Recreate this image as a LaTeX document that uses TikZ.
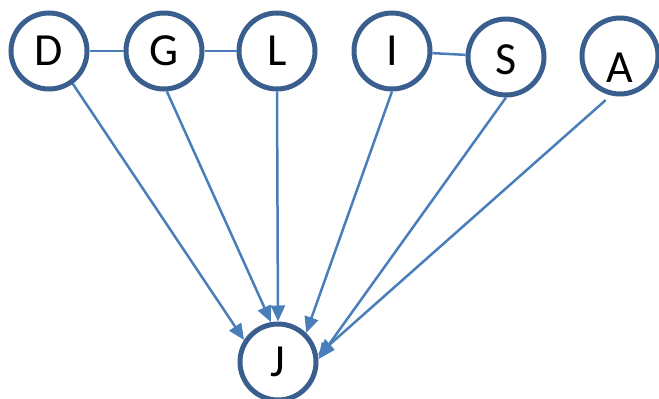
\documentclass[tikz,border=0pt]{standalone}
\usepackage{fontspec}
\setmainfont{Carlito}
\usetikzlibrary{arrows.meta}
\definecolor{ringblue}{HTML}{3A5F8E}
\definecolor{edgeblue}{HTML}{4A7EBB}
\begin{document}
\begin{tikzpicture}[
  x=1pt, y=-1pt,
  var/.style={draw=ringblue, line width=5pt, circle, minimum size=76pt,
    inner sep=0pt, font=\fontsize{46}{46}\selectfont},
  link/.style={draw=edgeblue, line width=2.5pt},
  dep/.style={link, -{Triangle[length=16pt,width=14pt]}}
]
\useasboundingbox (0,0) rectangle (659,399);
% variables
\node[var] (D) at (49,51)  {D};
\node[var] (G) at (164,51) {G};
\node[var] (L) at (277,51) {L};
\node[var] (I) at (392,51) {I};
\node[var, text height=35pt] (S) at (506,57) {S};
\node[var, text height=52pt] (A) at (620,56) {A};
\node[var] (J) at (278,362) {J};
% undirected links
\draw[link] (D) -- (G);
\draw[link] (G) -- (L);
\draw[link] (I) -- (S);
% everything points into J
\draw[dep] (D.-54) -- (J.147);
\draw[dep] (G.-86) -- (J.100);
\draw[dep] (L.south) -- (J.north);
\draw[dep] (I.south) -- (J.46);
\draw[dep] (S.south) -- (J.4);
\draw[dep, shorten <=7pt] (A.-103) -- (J.10);
\end{tikzpicture}
\end{document}
